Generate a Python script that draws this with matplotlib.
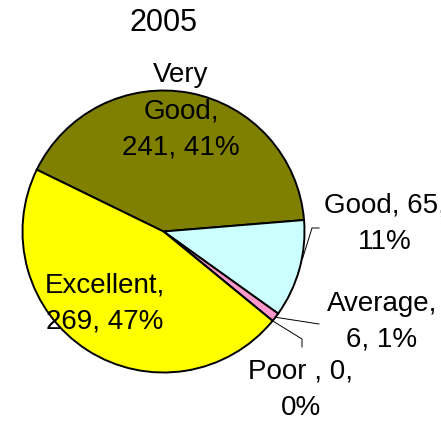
import numpy as np
import matplotlib
matplotlib.use('Agg')
import matplotlib.pyplot as plt

plt.rcParams['font.family'] = ['Liberation Sans', 'DejaVu Sans']

# Survey ratings for 2005, in the order they go round the pie (clockwise)
categories = ['Very Good', 'Good', 'Average', 'Poor', 'Excellent']
counts = [241, 65, 6, 0, 269]
pct_text = ['41%', '11%', '1%', '0%', '47%']
colors = ['#808000', '#CCFFFF', '#FF99CC', '#FFFFFF', '#FFFF00']
title = '2005'

W, H = 441, 424
fig = plt.figure(figsize=(W / 100, H / 100), dpi=100)
ax = fig.add_axes([0, 0, 1, 1])

cx, cy, r = 163.5, H - 231.5, 141
wedges, _ = ax.pie(counts, colors=colors, startangle=154, counterclock=False,
                   center=(cx, cy), radius=r, frame=True,
                   wedgeprops=dict(edgecolor='black', linewidth=1.4))
ax.set_xlim(0, W)
ax.set_ylim(0, H)
ax.set_aspect('equal')
ax.axis('off')


def edge_point(w):
    # point on the rim at the middle of a wedge
    mid = np.deg2rad((w.theta1 + w.theta2) / 2)
    return cx + r * np.cos(mid), cy + r * np.sin(mid)


fs = 20
ls = 1.5
ax.text(cx, H - 23, title, ha='center', va='center', fontsize=22)

# label text and centre (pixels from top-left) for each slice
labels = {
    'Very Good': ('Very\nGood,\n241, 41%', (181, 111)),
    'Good': ('Good, 65,\n11%', (385, 224)),
    'Average': ('Average,\n6, 1%', (382, 322)),
    'Poor': ('Poor , 0,\n0%', (301, 390)),
    'Excellent': ('Excellent,\n269, 47%', (105, 304)),
}
for name in categories:
    txt, (x, y) = labels[name]
    ax.text(x, H - y, txt, ha='center', va='center', fontsize=fs,
            linespacing=ls, multialignment='center')

# leader lines for the small slices
gx, gy = edge_point(wedges[1])
ax.plot([319, 312, gx + 3], [H - 228, H - 228, gy + 10], color='black', lw=0.7)
axx, ayy = edge_point(wedges[2])
ax.plot([319, axx], [H - 324, ayy], color='black', lw=0.7)
px, py = edge_point(wedges[3])
ax.plot([302, 302, px], [H - 347, H - 339, py], color='black', lw=0.7)

fig.savefig('out.png', dpi=100, facecolor='white')
